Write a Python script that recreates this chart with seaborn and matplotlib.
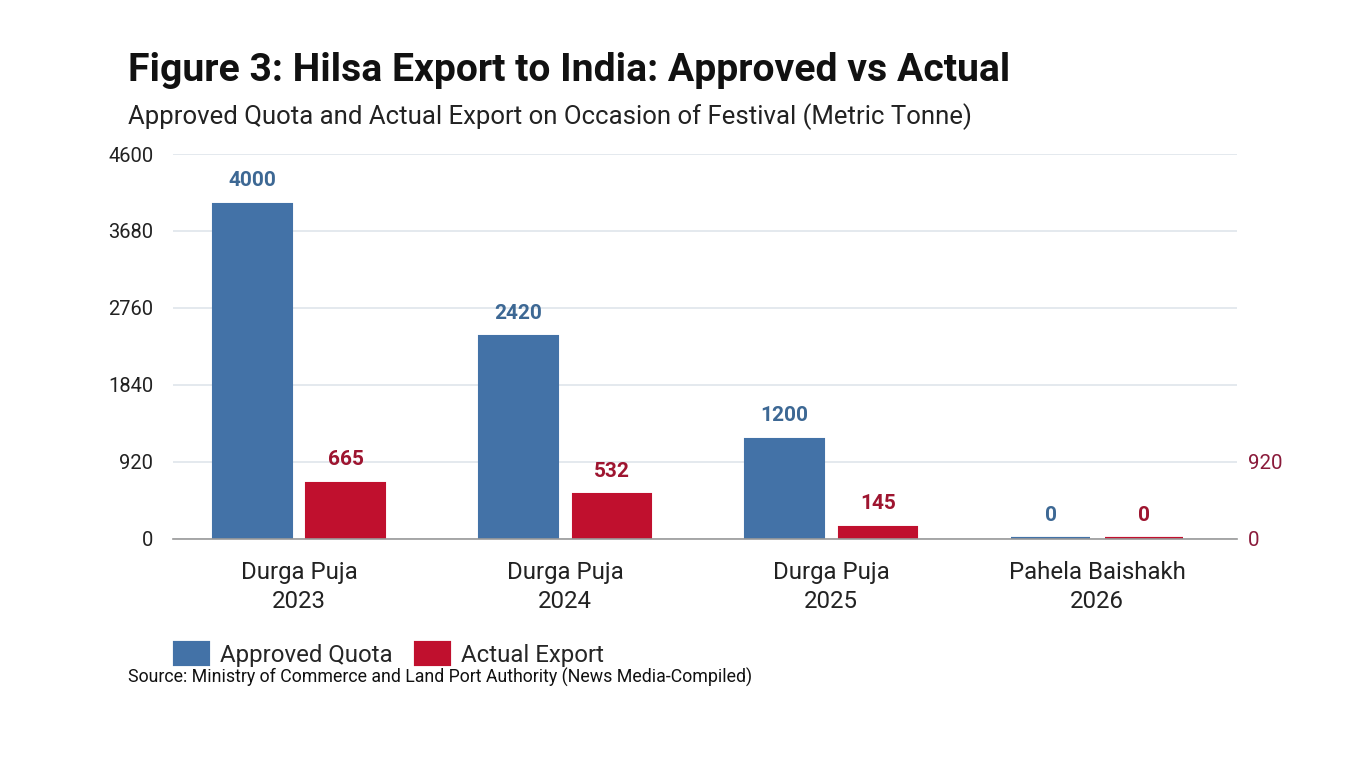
import matplotlib
matplotlib.use("Agg")
import matplotlib.pyplot as plt
import seaborn as sns
import pandas as pd

categories = ["Durga Puja\n2023", "Durga Puja\n2024", "Durga Puja\n2025", "Pahela Baishakh\n2026"]
approved = [4000, 2420, 1200, 0]
actual = [665, 532, 145, 0]
series_names = ["Approved Quota", "Actual Export"]
yticks = [0, 920, 1840, 2760, 3680, 4600]
right_ticks = [0, 920]

title = "Figure 3: Hilsa Export to India: Approved vs Actual"
subtitle = "Approved Quota and Actual Export on Occasion of Festival (Metric Tonne)"
source = "Source: Ministry of Commerce and Land Port Authority (News Media-Compiled)"

df = pd.DataFrame({
    "Festival": categories * 2,
    "Series": [series_names[0]] * 4 + [series_names[1]] * 4,
    "Value": approved + actual,
})

sns.set_theme(style="white")
plt.rcParams["font.family"] = ["Roboto", "DejaVu Sans"]

BLUE = "#4372a7"
RED = "#c0102e"
BLUE_TXT = "#3d6894"
RED_TXT = "#9e1530"
RIGHT_TXT = "#8a1a3a"

fig = plt.figure(figsize=(13.66, 7.59), dpi=100)
ax = fig.add_axes([0.1266, 0.2899, 0.7790, 0.5072])

sns.barplot(data=df, x="Festival", y="Value", hue="Series", hue_order=series_names,
            palette=[BLUE, RED], width=0.7, gap=0.16, ax=ax, legend=True,
            saturation=1)

for p in ax.patches:
    p.set_edgecolor(p.get_facecolor())
    p.set_linewidth(1.5)
    if p.get_height() == 0:
        p.set_linewidth(3)

ax.set_xlim(-0.474, 3.526)
ax.set_ylim(0, 4600)
ax.set_yticks(yticks)
ax.set_yticklabels([str(t) for t in yticks], fontsize=14.5, color="#222222")
ax.tick_params(axis="y", length=0, pad=14)
ax.tick_params(axis="x", length=0, pad=16, labelsize=17.3, colors="#222222")
ax.set_xlabel("")
ax.set_ylabel("")
ax.grid(axis="y", color="#dfe5eb", linewidth=1.2)
ax.set_axisbelow(True)
for s in ["top", "right", "left"]:
    ax.spines[s].set_visible(False)
ax.spines["bottom"].set_color("#999999")
ax.spines["bottom"].set_linewidth(1.2)
for lbl in ax.get_xticklabels():
    lbl.set_linespacing(1.3)

for container, col in zip(ax.containers, [BLUE_TXT, RED_TXT]):
    ax.bar_label(container, fmt="%d", padding=10, color=col,
                 fontsize=15, fontweight="bold")

ax2 = ax.twinx()
ax2.set_ylim(0, 4600)
ax2.set_yticks(right_ticks)
ax2.set_yticklabels([str(t) for t in right_ticks], fontsize=14.8, color=RIGHT_TXT)
ax2.tick_params(axis="y", length=0, pad=8)
for s in ["top", "right", "left", "bottom"]:
    ax2.spines[s].set_visible(False)
ax2.grid(False)

ax.legend_.remove()
handles, labels = ax.get_legend_handles_labels()
fig.legend(handles, labels, loc="upper left", bbox_to_anchor=(0.121, 0.165),
           ncol=2, frameon=False, fontsize=17.3, handlelength=1.37,
           handleheight=0.95, columnspacing=1.0, handletextpad=0.5,
           borderaxespad=0)

fig.text(0.094, 0.907, title, fontsize=28.2, fontweight="bold", color="#111111",
         va="center", ha="left")
fig.text(0.094, 0.847, subtitle, fontsize=18.5, color="#222222",
         va="center", ha="left")
fig.text(0.094, 0.108, source, fontsize=12.8, color="#111111",
         va="center", ha="left")

fig.savefig("out.png", dpi=100, facecolor="white")
